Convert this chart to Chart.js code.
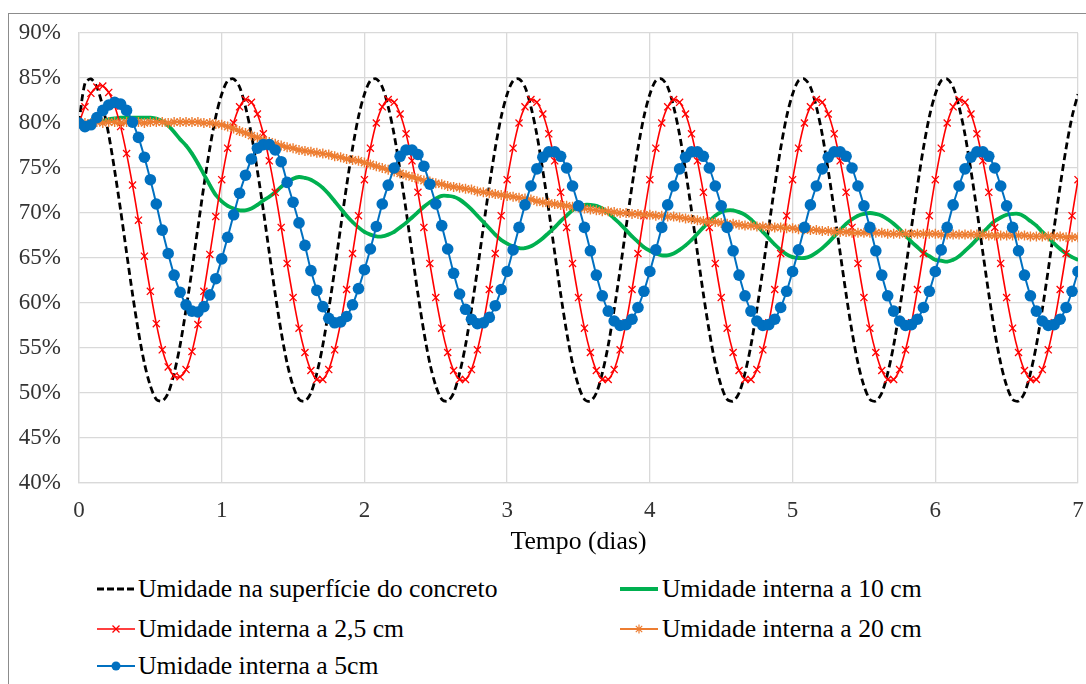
<!DOCTYPE html>
<html><head><meta charset="utf-8">
<script src="https://cdn.jsdelivr.net/npm/chart.js@4.4.1/dist/chart.umd.min.js"></script>
<style>
html,body{margin:0;padding:0;background:#fff;}
#wrap{position:relative;width:1086px;height:684px;overflow:hidden;background:#fff;}
#frame{position:absolute;left:8px;top:13px;width:1100px;height:700px;border:1px solid #8c8c8c;box-sizing:border-box;}
#c{position:absolute;left:0;top:0;}
.leg{position:absolute;height:30px;font-family:'Liberation Serif','Times New Roman',serif;font-size:25.7px;color:#000;white-space:nowrap;line-height:30px;}
.leg svg{position:absolute;left:0;top:5px;}
.leg span{position:absolute;top:0;}
</style></head>
<body>
<div id="wrap">
  <div id="frame"></div>
  <canvas id="c" width="1086" height="560"></canvas>
  <div id="legend"></div>
</div>
<script>
// time axis in hours (hourly readings, 0..7 days)
const horas = [
  0,1,2,3,4,5,6,7,8,9,10,11,12,13,14,15,16,17,18,19,20,21,22,23,
  24,25,26,27,28,29,30,31,32,33,34,35,36,37,38,39,40,41,42,43,44,45,46,47,
  48,49,50,51,52,53,54,55,56,57,58,59,60,61,62,63,64,65,66,67,68,69,70,71,
  72,73,74,75,76,77,78,79,80,81,82,83,84,85,86,87,88,89,90,91,92,93,94,95,
  96,97,98,99,100,101,102,103,104,105,106,107,108,109,110,111,112,113,114,115,116,117,118,119,
  120,121,122,123,124,125,126,127,128,129,130,131,132,133,134,135,136,137,138,139,140,141,142,143,
  144,145,146,147,148,149,150,151,152,153,154,155,156,157,158,159,160,161,162,163,164,165,166,167,
  168];
const rotulosDias = ['0','1','2','3','4','5','6','7'];

const superficie = [
  80.0,84.4,84.9,84.0,81.8,78.7,74.7,70.3,65.6,61.0,56.8,53.3,50.8,49.3,49.1,50.0,52.2,55.3,59.3,63.7,68.4,73.0,77.2,80.7,
  83.2,84.7,84.9,84.0,81.8,78.7,74.7,70.3,65.6,61.0,56.8,53.3,50.8,49.3,49.1,50.0,52.2,55.3,59.3,63.7,68.4,73.0,77.2,80.7,
  83.2,84.7,84.9,84.0,81.8,78.7,74.7,70.3,65.6,61.0,56.8,53.3,50.8,49.3,49.1,50.0,52.2,55.3,59.3,63.7,68.4,73.0,77.2,80.7,
  83.2,84.7,84.9,84.0,81.8,78.7,74.7,70.3,65.6,61.0,56.8,53.3,50.8,49.3,49.1,50.0,52.2,55.3,59.3,63.7,68.4,73.0,77.2,80.7,
  83.2,84.7,84.9,84.0,81.8,78.7,74.7,70.3,65.6,61.0,56.8,53.3,50.8,49.3,49.1,50.0,52.2,55.3,59.3,63.7,68.4,73.0,77.2,80.7,
  83.2,84.7,84.9,84.0,81.8,78.7,74.7,70.3,65.6,61.0,56.8,53.3,50.8,49.3,49.1,50.0,52.2,55.3,59.3,63.7,68.4,73.0,77.2,80.7,
  83.2,84.7,84.9,84.0,81.8,78.7,74.7,70.3,65.6,61.0,56.8,53.3,50.8,49.3,49.1,50.0,52.2,55.3,59.3,63.7,68.4,73.0,77.2,80.7,
  83.2];

const interna25 = [
  80.0,81.8,83.3,84.0,84.1,83.4,81.9,79.6,76.6,73.1,69.2,65.2,61.3,57.7,54.8,52.9,51.9,51.8,52.6,54.6,57.6,61.3,65.4,69.6,
  73.7,77.2,80.0,81.8,82.6,82.3,81.0,78.8,75.8,72.3,68.4,64.4,60.6,57.2,54.5,52.5,51.5,51.5,52.6,54.8,57.8,61.5,65.5,69.7,
  73.7,77.2,80.0,81.8,82.6,82.3,81.0,78.8,75.8,72.3,68.4,64.4,60.6,57.2,54.5,52.5,51.5,51.5,52.6,54.8,57.8,61.5,65.5,69.7,
  73.7,77.2,80.0,81.8,82.6,82.3,81.0,78.8,75.8,72.3,68.4,64.4,60.6,57.2,54.5,52.5,51.5,51.5,52.6,54.8,57.8,61.5,65.5,69.7,
  73.7,77.2,80.0,81.8,82.6,82.3,81.0,78.8,75.8,72.3,68.4,64.4,60.6,57.2,54.5,52.5,51.5,51.5,52.6,54.8,57.8,61.5,65.5,69.7,
  73.7,77.2,80.0,81.8,82.6,82.3,81.0,78.8,75.8,72.3,68.4,64.4,60.6,57.2,54.5,52.5,51.5,51.5,52.6,54.8,57.8,61.5,65.5,69.7,
  73.7,77.2,80.0,81.8,82.6,82.3,81.0,78.8,75.8,72.3,68.4,64.4,60.6,57.2,54.5,52.5,51.5,51.5,52.6,54.8,57.8,61.5,65.5,69.7,
  73.7];

const interna5 = [
  80.0,79.6,79.8,80.6,81.4,82.0,82.3,82.1,81.4,80.1,78.4,76.2,73.7,71.0,68.1,65.5,63.1,61.2,59.8,59.1,59.0,59.6,60.9,62.7,
  64.9,67.3,69.8,72.2,74.2,76.0,77.2,77.6,77.6,77.0,75.7,73.4,71.2,68.9,66.4,63.6,61.4,59.6,58.3,57.8,57.9,58.5,59.8,61.6,
  63.7,66.0,68.5,71.0,73.1,75.0,76.3,77.0,77.0,76.5,75.2,73.2,71.0,68.6,66.0,63.3,61.0,59.3,58.2,57.7,57.8,58.4,59.7,61.5,
  63.5,65.9,68.4,70.9,73.0,74.9,76.2,76.8,76.8,76.3,75.0,73.0,70.8,68.4,65.8,63.1,60.8,59.1,58.0,57.5,57.6,58.2,59.5,61.3,
  63.5,65.9,68.4,70.9,73.0,74.9,76.2,76.8,76.8,76.3,75.0,73.0,70.8,68.4,65.8,63.1,60.8,59.1,58.0,57.5,57.6,58.2,59.5,61.3,
  63.5,65.9,68.4,70.9,73.0,74.9,76.2,76.8,76.8,76.3,75.0,73.0,70.8,68.4,65.8,63.1,60.8,59.1,58.0,57.5,57.6,58.2,59.5,61.3,
  63.5,65.9,68.4,70.9,73.0,74.9,76.2,76.8,76.8,76.3,75.0,73.0,70.8,68.4,65.8,63.1,60.8,59.1,58.0,57.5,57.6,58.2,59.5,61.3,
  63.5];

const interna10 = [
  80.0,80.0,80.1,80.1,80.2,80.4,80.5,80.6,80.6,80.6,80.6,80.6,80.6,80.5,80.2,79.7,79.0,78.2,77.5,76.6,75.5,74.3,73.1,72.0,
  71.3,70.8,70.5,70.3,70.3,70.5,70.9,71.4,71.8,72.3,72.9,73.4,73.8,74.0,73.9,73.7,73.3,72.8,72.1,71.3,70.5,69.7,69.0,68.4,
  67.9,67.6,67.4,67.4,67.6,67.9,68.4,68.9,69.5,70.1,70.7,71.2,71.6,71.9,71.9,71.8,71.5,71.0,70.4,69.7,69.0,68.3,67.6,67.0,
  66.6,66.3,66.1,66.1,66.3,66.7,67.2,67.8,68.4,69.1,69.7,70.3,70.7,70.9,70.9,70.8,70.5,70.0,69.4,68.8,68.1,67.4,66.8,66.2,
  65.8,65.5,65.3,65.3,65.5,65.9,66.4,67.0,67.7,68.4,69.1,69.7,70.1,70.3,70.3,70.1,69.8,69.3,68.6,67.9,67.2,66.5,65.9,65.4,
  65.1,65.0,65.0,65.2,65.6,66.1,66.7,67.4,68.1,68.8,69.3,69.7,69.9,70.0,69.9,69.7,69.3,68.8,68.2,67.5,66.8,66.2,65.6,65.2,
  64.8,64.7,64.6,64.8,65.2,65.8,66.4,67.1,67.8,68.5,69.1,69.5,69.8,69.9,69.9,69.6,69.1,68.6,67.9,67.3,66.6,66.0,65.5,65.1,
  64.8];

const interna20 = [
  80.0,80.0,80.0,80.1,80.0,80.1,80.1,80.0,80.1,80.1,80.1,80.0,80.1,80.1,80.1,80.0,80.1,80.1,80.1,80.1,80.1,80.0,80.0,79.9,
  79.8,79.6,79.4,79.1,78.9,78.6,78.4,78.1,77.9,77.7,77.5,77.3,77.2,77.0,76.9,76.8,76.7,76.6,76.5,76.3,76.2,76.0,75.9,75.8,
  75.6,75.4,75.2,75.0,74.8,74.6,74.4,74.2,74.0,73.8,73.6,73.5,73.3,73.2,73.0,72.9,72.8,72.7,72.6,72.4,72.3,72.2,72.1,72.0,
  71.9,71.8,71.7,71.6,71.5,71.3,71.2,71.1,71.0,70.9,70.8,70.7,70.6,70.5,70.4,70.3,70.2,70.2,70.1,70.0,70.0,69.9,69.9,69.8,
  69.8,69.7,69.7,69.6,69.6,69.5,69.4,69.3,69.2,69.1,69.0,69.0,68.9,68.8,68.8,68.7,68.6,68.6,68.5,68.5,68.4,68.4,68.4,68.3,
  68.3,68.2,68.2,68.1,68.1,68.0,68.0,67.9,67.9,67.9,67.8,67.8,67.8,67.8,67.8,67.8,67.7,67.7,67.7,67.7,67.7,67.7,67.7,67.7,
  67.7,67.6,67.6,67.6,67.6,67.6,67.6,67.6,67.6,67.5,67.5,67.5,67.5,67.5,67.5,67.5,67.4,67.4,67.4,67.4,67.4,67.4,67.3,67.3,
  67.3];

const nomes = [
  'Umidade na superfície do concreto',
  'Umidade interna a 10 cm',
  'Umidade interna a 2,5 cm',
  'Umidade interna a 20 cm',
  'Umidade interna a 5cm'
];
const cores = ['#000000','#00B050','#FF0000','#ED7D31','#0070C0'];

function pares(vals){ return vals.map((v,i)=>({x:horas[i], y:v})); }

const fam = "'Liberation Serif','Times New Roman',serif";

// dataset index 0 is drawn on top in Chart.js, so list from top to bottom
const datasets = [
  {label:nomes[4], data:pares(interna5), borderColor:cores[4], backgroundColor:cores[4],
   borderWidth:2, pointStyle:'circle', pointRadius:5.8, pointBorderWidth:0, tension:0.3},
  {label:nomes[3], data:pares(interna20), borderColor:cores[3], backgroundColor:cores[3],
   borderWidth:2, pointStyle:'star', pointRadius:5, pointBorderWidth:1.4, tension:0.3},
  {label:nomes[2], data:pares(interna25), borderColor:cores[2], backgroundColor:cores[2],
   borderWidth:1.6, pointStyle:'crossRot', pointRadius:5, pointBorderWidth:1.3, tension:0.3},
  {label:nomes[1], data:pares(interna10), borderColor:cores[1], backgroundColor:cores[1],
   borderWidth:3.8, pointStyle:'circle', pointRadius:1.6, pointBorderWidth:0, tension:0.3},
  {label:nomes[0], data:pares(superficie), borderColor:cores[0], backgroundColor:cores[0],
   borderWidth:2.8, borderDash:[7,4], pointRadius:0, tension:0.3}
];

new Chart(document.getElementById('c'), {
  type:'line',
  data:{datasets},
  options:{
    responsive:false, animation:false, devicePixelRatio:1,
    layout:{padding:{top:33,right:8,left:0,bottom:0}},
    plugins:{legend:{display:false}, tooltip:{enabled:false}},
    scales:{
      x:{type:'linear', min:0, max:168,
         ticks:{stepSize:24, autoSkip:false, maxRotation:0, padding:14, color:'#333',
                font:{family:fam, size:23},
                callback:(v)=> rotulosDias[v/24] ?? ''},
         grid:{color:'#d9d9d9', lineWidth:1.3, drawTicks:false},
         border:{color:'#d9d9d9', width:1.3},
         title:{display:true, text:'Tempo (dias)', color:'#000', font:{family:fam, size:25.7}, padding:{top:0,bottom:2}},
         afterFit:(s)=>{ s.height = 77; s.paddingLeft = 0; s.paddingRight = 0; }
      },
      y:{min:40, max:90,
         ticks:{stepSize:5, padding:18, color:'#333', font:{family:fam, size:23},
                callback:(v)=> v + '%'},
         grid:{color:'#d9d9d9', lineWidth:1.3, drawTicks:false},
         border:{color:'#d9d9d9', width:1.3},
         afterFit:(s)=>{ s.width = 79; }
      }
    }
  }
});

// legend (two columns, as in the reference)
const itens = [
  {i:0, x:97,  y:574},
  {i:1, x:620, y:574},
  {i:2, x:97,  y:614},
  {i:3, x:620, y:614},
  {i:4, x:97,  y:651}
];
function amostra(i){
  const c = cores[i];
  let s = '<svg width="40" height="20" viewBox="0 0 40 20">';
  if(i===0){
    s += `<line x1="0" y1="10" x2="38" y2="10" stroke="${c}" stroke-width="2.8" stroke-dasharray="7,3"/>`;
  } else if(i===1){
    s += `<line x1="0" y1="10" x2="38" y2="10" stroke="${c}" stroke-width="4"/>`;
    s += `<circle cx="19" cy="10" r="1.6" fill="${c}"/>`;
  } else if(i===2){
    s += `<line x1="0" y1="10" x2="38" y2="10" stroke="${c}" stroke-width="1.6"/>`;
    s += `<path d="M15.5 6.5 L22.5 13.5 M22.5 6.5 L15.5 13.5" stroke="${c}" stroke-width="1.3"/>`;
  } else if(i===3){
    s += `<line x1="0" y1="10" x2="38" y2="10" stroke="${c}" stroke-width="2"/>`;
    s += `<path d="M19 5.5 L19 14.5 M14.5 10 L23.5 10 M15.8 6.8 L22.2 13.2 M22.2 6.8 L15.8 13.2" stroke="${c}" stroke-width="1.2"/>`;
  } else {
    s += `<line x1="0" y1="10" x2="38" y2="10" stroke="${c}" stroke-width="2"/>`;
    s += `<circle cx="19" cy="10" r="4.5" fill="${c}"/>`;
  }
  return s + '</svg>';
}
const leg = document.getElementById('legend');
itens.forEach(it=>{
  const d = document.createElement('div');
  d.className = 'leg';
  d.style.left = it.x + 'px';
  d.style.top = it.y + 'px';
  d.innerHTML = amostra(it.i) + `<span style="left:${it.x===97?41:42}px">${nomes[it.i]}</span>`;
  leg.appendChild(d);
});
</script>
</body></html>
